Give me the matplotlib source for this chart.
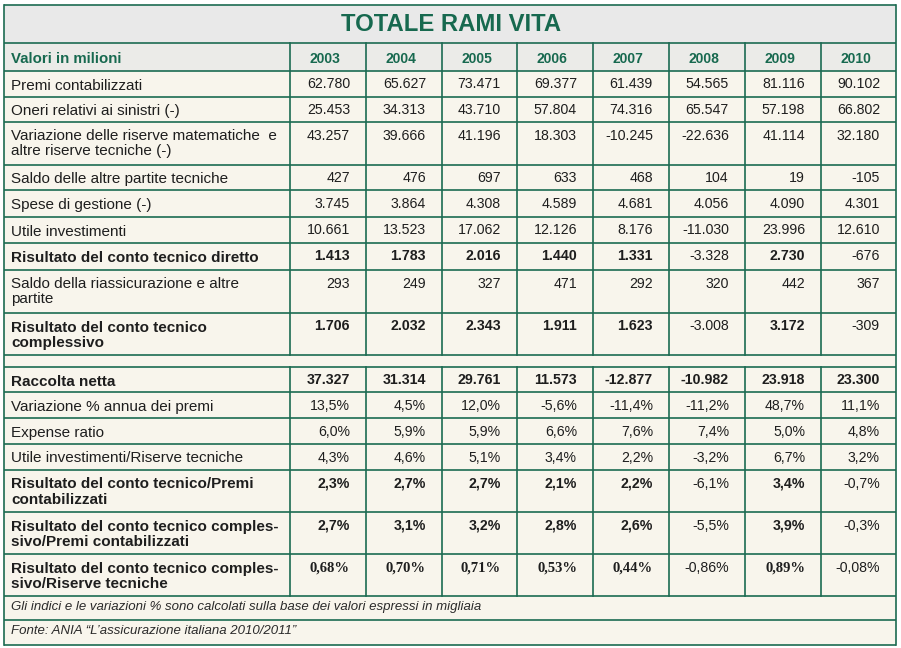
import matplotlib
matplotlib.use('Agg')
import matplotlib.pyplot as plt
from matplotlib import font_manager
from matplotlib.patches import Rectangle

# dati (valori in milioni / percentuali)
title = 'TOTALE RAMI VITA'
header_label = 'Valori in milioni'
years = ['2003', '2004', '2005', '2006', '2007', '2008', '2009', '2010']

premi = [62780, 65627, 73471, 69377, 61439, 54565, 81116, 90102]
oneri = [25453, 34313, 43710, 57804, 74316, 65547, 57198, 66802]
var_riserve = [43257, 39666, 41196, 18303, -10245, -22636, 41114, 32180]
saldo_altre = [427, 476, 697, 633, 468, 104, 19, -105]
spese = [3745, 3864, 4308, 4589, 4681, 4056, 4090, 4301]
utile_inv = [10661, 13523, 17062, 12126, 8176, -11030, 23996, 12610]
ris_diretto = [1413, 1783, 2016, 1440, 1331, -3328, 2730, -676]
saldo_riass = [293, 249, 327, 471, 292, 320, 442, 367]
ris_compl = [1706, 2032, 2343, 1911, 1623, -3008, 3172, -309]
raccolta = [37327, 31314, 29761, 11573, -12877, -10982, 23918, 23300]
var_premi = [13.5, 4.5, 12.0, -5.6, -11.4, -11.2, 48.7, 11.1]
expense = [6.0, 5.9, 5.9, 6.6, 7.6, 7.4, 5.0, 4.8]
utile_ris = [4.3, 4.6, 5.1, 3.4, 2.2, -3.2, 6.7, 3.2]
ris_premi = [2.3, 2.7, 2.7, 2.1, 2.2, -6.1, 3.4, -0.7]
ris_compl_premi = [2.7, 3.1, 3.2, 2.8, 2.6, -5.5, 3.9, -0.3]
ris_compl_ris = [0.68, 0.70, 0.71, 0.53, 0.44, -0.86, 0.89, -0.08]

footnotes = ['Gli indici e le variazioni % sono calcolati sulla base dei valori espressi in migliaia',
             'Fonte: ANIA \u201cL\u2019assicurazione italiana 2010/2011\u201d']

# (etichetta, valori, formato, stile); None = riga vuota
rows = [
    ('Premi contabilizzati', premi, 'int', 'normal'),
    ('Oneri relativi ai sinistri (-)', oneri, 'int', 'normal'),
    ('Variazione delle riserve matematiche  e\naltre riserve tecniche (-)', var_riserve, 'int', 'normal'),
    ('Saldo delle altre partite tecniche', saldo_altre, 'int', 'normal'),
    ('Spese di gestione (-)', spese, 'int', 'normal'),
    ('Utile investimenti', utile_inv, 'int', 'normal'),
    ('Risultato del conto tecnico diretto', ris_diretto, 'int', 'boldpos'),
    ('Saldo della riassicurazione e altre\npartite', saldo_riass, 'int', 'normal'),
    ('Risultato del conto tecnico\ncomplessivo', ris_compl, 'int', 'boldpos'),
    None,
    ('Raccolta netta', raccolta, 'int', 'bold'),
    ('Variazione % annua dei premi', var_premi, 'pct1', 'normal'),
    ('Expense ratio', expense, 'pct1', 'normal'),
    ('Utile investimenti/Riserve tecniche', utile_ris, 'pct1', 'normal'),
    ('Risultato del conto tecnico/Premi\ncontabilizzati', ris_premi, 'pct1', 'boldpos'),
    ('Risultato del conto tecnico comples-\nsivo/Premi contabilizzati', ris_compl_premi, 'pct1', 'boldpos'),
    ('Risultato del conto tecnico comples-\nsivo/Riserve tecniche', ris_compl_ris, 'pct2', 'serifpos'),
]

# layout in pixel
col_edges = [4, 290, 366, 442, 517, 593, 669, 745, 821, 896]
title_edges = (5, 43)
header_edges = (43, 71)
row_edges = [71, 97, 122, 165, 190, 217, 243, 270, 313, 355, 367,
             392, 418, 444, 470, 512, 554, 596]
foot_edges = [596, 620, 645]

green = '#17694f'
line_col = '#1c6b52'
cream = '#f8f5ec'
grey_title = '#e9e9e9'
grey_head = '#ebebe8'
text_col = '#1e1e1e'


def has_font(name):
    try:
        font_manager.findfont(font_manager.FontProperties(family=name), fallback_to_default=False)
        return True
    except ValueError:
        return False


sans = 'Liberation Sans'
serif = 'Liberation Serif'
if has_font('Liberation Sans Narrow'):
    narrow, nscale = 'Liberation Sans Narrow', 1.0
else:
    narrow, nscale = 'Liberation Sans', 0.86


def fmt(v, kind):
    if kind == 'int':
        return f'{v:,}'.replace(',', '.')
    if kind == 'pct1':
        return f'{v:.1f}%'.replace('.', ',')
    return f'{v:.2f}%'.replace('.', ',')


fig = plt.figure(figsize=(9.01, 6.48), dpi=100)
ax = fig.add_axes([0, 0, 1, 1])
ax.set_xlim(0, 901)
ax.set_ylim(648, 0)
ax.axis('off')

L, R = col_edges[0], col_edges[-1]
top, bottom = title_edges[0], foot_edges[-1]

# sfondi
ax.add_patch(Rectangle((L, top), R - L, bottom - top, fc=cream, ec='none'))
ax.add_patch(Rectangle((L, title_edges[0]), R - L, title_edges[1] - title_edges[0], fc=grey_title, ec='none'))
ax.add_patch(Rectangle((L, header_edges[0]), R - L, header_edges[1] - header_edges[0], fc=grey_head, ec='none'))

# linee
lw = 1.2
for y in [top, title_edges[1], header_edges[1]] + row_edges[1:] + foot_edges[1:]:
    ax.plot([L, R], [y, y], color=line_col, lw=lw, solid_capstyle='butt')
ax.plot([L, L], [top, bottom], color=line_col, lw=lw)
ax.plot([R, R], [top, bottom], color=line_col, lw=lw)
blank_i = rows.index(None)
spans = [(header_edges[0], row_edges[blank_i]), (row_edges[blank_i + 1], row_edges[-1])]
for x in col_edges[1:-1]:
    for y0, y1 in spans:
        ax.plot([x, x], [y0, y1], color=line_col, lw=lw)

# titolo e intestazione
ax.text(451, title_edges[0] + 26, title, ha='center', va='baseline', fontsize=20 * nscale,
        weight='bold', family=narrow, color=green)
ax.text(11, header_edges[0] + 20, header_label, ha='left', va='baseline', fontsize=10.8,
        weight='bold', family=sans, color=green)
for i, yr in enumerate(years):
    cx = (col_edges[i + 1] + col_edges[i + 2]) / 2 - 3
    ax.text(cx, header_edges[0] + 20, yr, ha='center', va='baseline', fontsize=11.6 * nscale,
            weight='bold', family=narrow, color=green)

# righe
for r, row in enumerate(rows):
    if row is None:
        continue
    label, vals, kind, style = row
    y0 = row_edges[r]
    bold_label = style != 'normal'
    for k, line in enumerate(label.split('\n')):
        ax.text(11, y0 + 18.5 + 15 * k, line, ha='left', va='baseline', fontsize=11,
                weight='bold' if bold_label else 'normal', family=sans, color=text_col)
    for i, v in enumerate(vals):
        xr = col_edges[i + 2] - 16
        weight, fam, size = 'normal', narrow, 11.8 * nscale
        if style == 'bold' or (style in ('boldpos', 'serifpos') and v >= 0):
            weight = 'bold'
        if style == 'serifpos' and v >= 0:
            fam, size = serif, 10.5
        ax.text(xr, y0 + 17.5, fmt(v, kind), ha='right', va='baseline', fontsize=size,
                weight=weight, family=fam, color=text_col)

# note
for k, note in enumerate(footnotes):
    ax.text(11, foot_edges[k] + 14, note, ha='left', va='baseline', fontsize=9.5,
            style='italic', family=sans, color='#2a2a2a')

fig.savefig('out.png', dpi=100)
